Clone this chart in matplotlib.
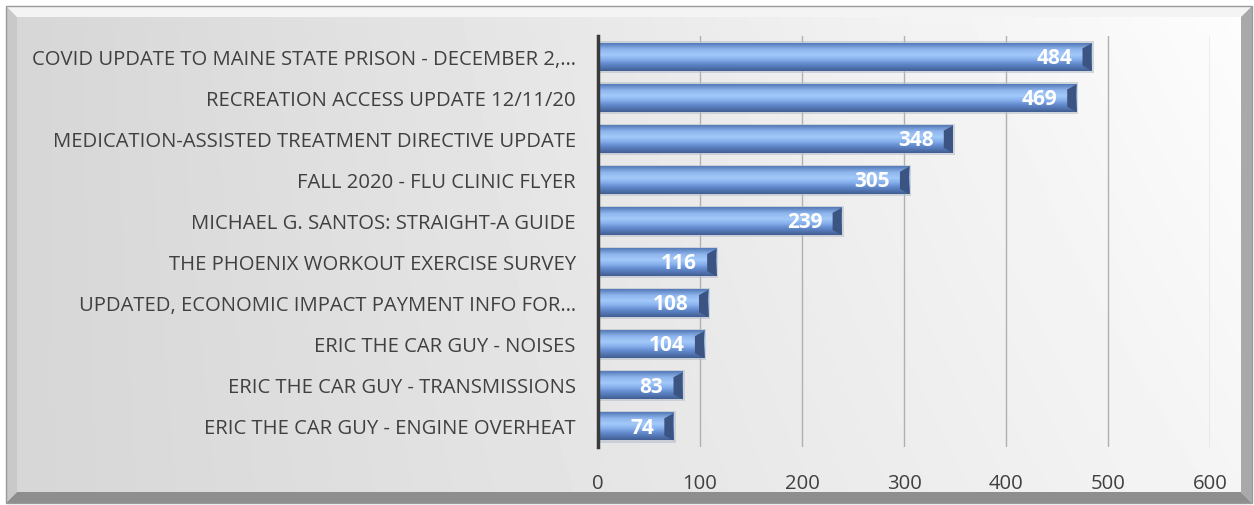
import numpy as np
import matplotlib.pyplot as plt
from matplotlib.patches import Rectangle, Polygon

labels = [
    "COVID UPDATE TO MAINE STATE PRISON - DECEMBER 2,…",
    "RECREATION ACCESS UPDATE 12/11/20",
    "MEDICATION-ASSISTED TREATMENT DIRECTIVE UPDATE",
    "FALL 2020 - FLU CLINIC FLYER",
    "MICHAEL G. SANTOS: STRAIGHT-A GUIDE",
    "THE PHOENIX WORKOUT EXERCISE SURVEY",
    "UPDATED, ECONOMIC IMPACT PAYMENT INFO FOR…",
    "ERIC THE CAR GUY - NOISES",
    "ERIC THE CAR GUY - TRANSMISSIONS",
    "ERIC THE CAR GUY - ENGINE OVERHEAT",
]
views = [484, 469, 348, 305, 239, 116, 108, 104, 83, 74]
xticks = [0, 100, 200, 300, 400, 500, 600]

plt.rcParams['font.family'] = ['Open Sans', 'DejaVu Sans']

W, H = 1254, 505
fig = plt.figure(figsize=(W / 100, H / 100), dpi=100)

# background: pixel-coordinate axes for the bevelled frame
bg = fig.add_axes([0, 0, 1, 1], zorder=-5)
bg.set_xlim(0, W)
bg.set_ylim(H, 0)
bg.axis('off')

x0, y0, x1, y1 = 6, 6, 1252, 503
b = 11
gx = np.linspace(0, 1, 300)
gy = np.linspace(0, 1, 120)
X, Y = np.meshgrid(gx, gy)
shade = 0.84 + 0.12 * X + 0.03 * (1 - Y) * X
bg.imshow(shade, cmap='gray', vmin=0, vmax=1, extent=[x0 + b, x1 - b, y1 - b, y0 + b],
          aspect='auto', origin='upper', interpolation='bilinear')
faces = [
    ([(x0, y0), (x1, y0), (x1 - b, y0 + b), (x0 + b, y0 + b)], '#f4f4f4'),
    ([(x0, y0), (x0 + b, y0 + b), (x0 + b, y1 - b), (x0, y1)], '#c9c9c9'),
    ([(x1, y0), (x1, y1), (x1 - b, y1 - b), (x1 - b, y0 + b)], '#a9a9a9'),
    ([(x0, y1), (x0 + b, y1 - b), (x1 - b, y1 - b), (x1, y1)], '#8e8e8e'),
]
for pts, c in faces:
    bg.add_patch(Polygon(pts, closed=True, fc=c, ec='none'))
bg.add_patch(Rectangle((x0, y0), x1 - x0, y1 - y0, fill=False, ec='#9a9a9a', lw=1))

ax = fig.add_axes([0.4769, 0.1139, 0.488, 0.8139])
ax.patch.set_alpha(0)
y = np.arange(len(labels))
h = 0.66

ax.set_xlim(0, 600)
ax.set_ylim(len(labels) - 0.5, -0.5)

# blue bevel gradient for bars
grad = np.array([0.0, 0.22, 0.42, 0.58, 0.75, 1.0])
cols = np.array([[0.33, 0.48, 0.72], [0.56, 0.71, 0.93], [0.64, 0.79, 0.98],
                 [0.53, 0.69, 0.93], [0.38, 0.54, 0.80], [0.26, 0.37, 0.58]])
t = np.linspace(0, 1, 60)
img = np.stack([np.interp(t, grad, cols[:, k]) for k in range(3)], axis=-1)[:, None, :]

for yi, v in zip(y, views):
    ax.add_patch(Rectangle((0, yi - h / 2 - 0.05), v + 2, h + 0.1,
                           fc='#b8c0cc', ec='none', alpha=0.6, zorder=2))
    ax.imshow(img, extent=[0, v, yi + h / 2, yi - h / 2], aspect='auto',
              interpolation='bilinear', zorder=3)
    ax.add_patch(Polygon([(v - 9, yi - h / 2 + 0.12), (v, yi - h / 2), (v, yi + h / 2),
                          (v - 9, yi + h / 2 - 0.12)], closed=True,
                         fc='#3b5482', ec='none', zorder=4))
    ax.text(v - 19, yi + 0.03, str(v), color='white', fontsize=15, fontweight='bold',
            ha='right', va='center', zorder=5)

ax.set_yticks(y)
ax.set_yticklabels(labels, fontsize=14.6, color='#404040')
ax.set_xticks(xticks)
ax.set_xticklabels([str(v) for v in xticks], fontsize=14.6, color='#404040')
ax.tick_params(axis='both', length=0)
ax.tick_params(axis='y', pad=16)
ax.tick_params(axis='x', pad=19)
ax.xaxis.grid(True, color='#b0b0b0', lw=1.0, zorder=0)
ax.set_axisbelow(True)
for s in ['top', 'right', 'bottom']:
    ax.spines[s].set_visible(False)
ax.spines['left'].set_color('#3a3a3a')
ax.spines['left'].set_linewidth(2.5)
ax.spines['left'].set_zorder(6)

fig.savefig('out.png', dpi=100)
